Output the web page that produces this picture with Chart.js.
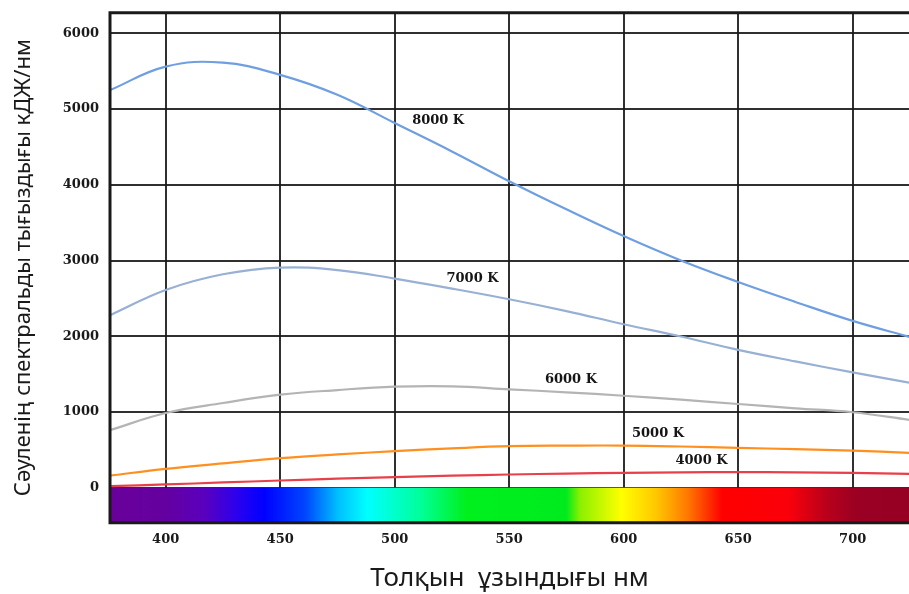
<!DOCTYPE html>
<html>
<head>
<meta charset="utf-8">
<script src="https://cdn.jsdelivr.net/npm/chart.js@4.4.1/dist/chart.umd.min.js"></script>
<style>
  html, body { margin: 0; padding: 0; background: #fff; }
  #wrap { width: 909px; height: 594px; }
</style>
</head>
<body>
<div id="wrap"><canvas id="planck-chart" width="909" height="594"></canvas></div>
<script>
// wavelength samples (nm)
const wavelengths = [376, 400, 425, 450, 475, 500, 525, 550, 575, 600, 625, 650, 675, 700, 725]

const temps = ['8000 K', '7000 K', '6000 K', '5000 K', '4000 K']
const curve8000 = [5253, 5560, 5612, 5451, 5188, 4815, 4440, 4046, 3675, 3322, 3000, 2716, 2453, 2203, 1990]
const curve7000 = [2282, 2611, 2818, 2906, 2874, 2761, 2629, 2488, 2332, 2159, 1997, 1821, 1668, 1523, 1385]
const curve6000 = [764, 987, 1119, 1229, 1290, 1334, 1339, 1300, 1260, 1215, 1163, 1106, 1049, 997, 895]
const curve5000 = [162, 250, 322, 391, 440, 483, 520, 549, 556, 557, 545, 527, 510, 491, 461]
const curve4000 = [22, 44, 70, 96, 120, 141, 160, 175, 188, 197, 204, 207, 204, 197, 184]
const curveColors = ['#6f9fe0', '#98b0d4', '#b4b4b4', '#ff9020', '#e8404a']

const xTicks = [400, 450, 500, 550, 600, 650, 700]
const yTicks = [0, 1000, 2000, 3000, 4000, 5000, 6000]

// visible spectrum band under the zero line
const spectrumNm = [376, 400, 417, 432, 443, 461, 475, 488, 512, 531, 575, 581, 599, 614, 628, 643, 672, 687, 701, 725]
const spectrumColors = ['#69009a', '#6400a0', '#5a00be', '#2800f0', '#0000ff', '#0046ff', '#00beff', '#00ffff',
  '#00ff96', '#00f01e', '#00eb1e', '#8cf000', '#ffff00', '#ffc800', '#ff7800', '#ff0000', '#fa000a', '#be0019', '#9b0023', '#960023']

// where each temperature label sits (nm, value)
const labelNm = [519, 534, 577, 615, 634]
const labelValue = [4845, 2765, 1422, 711, 355]

const seriesList = [curve8000, curve7000, curve6000, curve5000, curve4000]

const spectrumBand = {
  id: 'spectrumBand',
  beforeDatasetsDraw(chart) {
    const {ctx, chartArea, scales} = chart
    const x = scales.x, y = scales.y
    const top = y.getPixelForValue(0)
    const g = ctx.createLinearGradient(chartArea.left, 0, chartArea.right, 0)
    spectrumNm.forEach((nm, i) => {
      let f = (x.getPixelForValue(nm) - chartArea.left) / (chartArea.right - chartArea.left)
      g.addColorStop(Math.min(1, Math.max(0, f)), spectrumColors[i])
    })
    ctx.save()
    ctx.fillStyle = g
    ctx.fillRect(chartArea.left, top, chartArea.right - chartArea.left, chartArea.bottom - top)
    ctx.restore()
  },
  afterDatasetsDraw(chart) {
    const {ctx, chartArea, scales} = chart
    ctx.save()
    ctx.strokeStyle = '#1a1a1a'
    ctx.lineWidth = 3
    ctx.beginPath()
    ctx.moveTo(chartArea.right, chartArea.top)
    ctx.lineTo(chartArea.left, chartArea.top)
    ctx.lineTo(chartArea.left, chartArea.bottom)
    ctx.lineTo(chartArea.right, chartArea.bottom)
    ctx.stroke()

    ctx.font = 'bold 13px "DejaVu Serif"'
    ctx.fillStyle = '#151515'
    ctx.textAlign = 'center'
    ctx.textBaseline = 'middle'
    temps.forEach((t, i) => {
      ctx.fillText(t, scales.x.getPixelForValue(labelNm[i]), scales.y.getPixelForValue(labelValue[i]))
    })
    ctx.restore()
  }
}

const tickFont = {family: 'DejaVu Serif', size: 13, weight: 'bold'}
const gridStyle = {color: 'rgba(25,25,25,0.9)', lineWidth: 2, drawTicks: false}

new Chart(document.getElementById('planck-chart'), {
  type: 'line',
  data: {
    datasets: seriesList.map((vals, i) => ({
      label: temps[i],
      data: wavelengths.map((w, j) => ({x: w, y: vals[j]})),
      borderColor: curveColors[i],
      borderWidth: 2.2,
      pointRadius: 0,
      tension: 0.4,
      fill: false
    }))
  },
  options: {
    responsive: false,
    animation: false,
    layout: {padding: {top: 12.7, right: 0, bottom: 0, left: 0}},
    plugins: {legend: {display: false}, tooltip: {enabled: false}},
    scales: {
      x: {
        type: 'linear',
        min: 375.7,
        max: 724.6,
        afterBuildTicks: s => { s.ticks = xTicks.map(v => ({value: v})) },
        afterFit: s => { s.height = 71.3; s.paddingLeft = 0; s.paddingRight = 0 },
        grid: gridStyle,
        border: {display: false},
        ticks: {font: tickFont, color: '#1a1a1a', padding: 9, maxRotation: 0, callback: v => String(v)},
        title: {
          display: true,
          text: 'Толқын  ұзындығы нм',
          font: {family: 'Noto Sans', size: 26},
          color: '#1a1a1a',
          padding: {top: 0, bottom: 0}
        }
      },
      y: {
        min: -461,
        max: 6271,
        afterBuildTicks: s => { s.ticks = yTicks.map(v => ({value: v})) },
        afterFit: s => { s.width = 110; s.paddingTop = 0; s.paddingBottom = 0 },
        grid: gridStyle,
        border: {display: false},
        ticks: {font: tickFont, color: '#1a1a1a', padding: 11, callback: v => String(v)},
        title: {
          display: true,
          text: 'Сәуленің спектральды тығыздығы кДЖ/нм',
          font: {family: 'Noto Sans', size: 22},
          color: '#1a1a1a',
          padding: {top: 11, bottom: 0}
        }
      }
    }
  },
  plugins: [spectrumBand]
})
</script>
</body>
</html>
